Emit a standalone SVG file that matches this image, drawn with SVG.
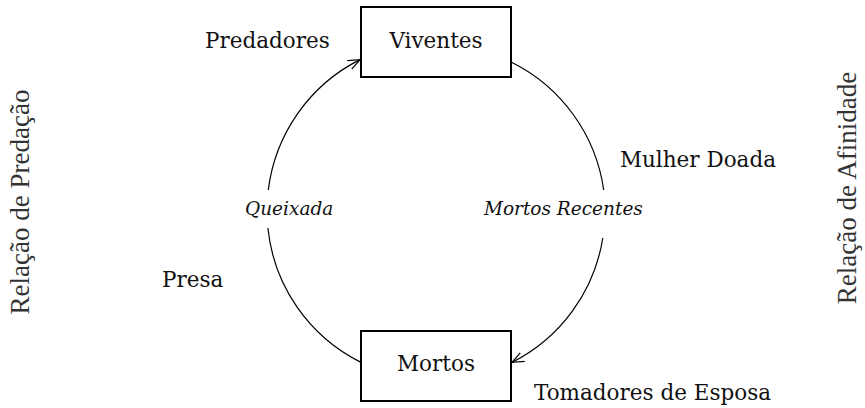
<svg xmlns="http://www.w3.org/2000/svg" width="865" height="408" viewBox="0 0 865 408">
<style>
.t{font-family:"DejaVu Serif","Liberation Serif",serif;font-size:21.5px;fill:#111}
.i{font-family:"DejaVu Serif","Liberation Serif",serif;font-style:italic;font-size:18.5px;fill:#111}
.v{font-family:"Liberation Serif","DejaVu Serif",serif;font-size:27px;fill:#333}
.box{fill:#fff;stroke:#000;stroke-width:2}
.arc{fill:none;stroke:#000;stroke-width:1.2}
</style>
<defs>
<marker id="ah" markerUnits="userSpaceOnUse" markerWidth="14" markerHeight="12" refX="12" refY="5" orient="auto">
<path d="M0,0 L12,5 L0,10" fill="none" stroke="#000" stroke-width="1.2"/>
</marker>
</defs>
<rect width="865" height="408" fill="#fff"/>
<g id="connectors">
<path class="arc" d="M361,362.4 A169,169 0 0 1 267.9,228"/>
<path class="arc" d="M268.3,190 A169,169 0 0 1 360,59.6" marker-end="url(#ah)"/>
<path class="arc" d="M511,62 A169,169 0 0 1 603.7,190"/>
<path class="arc" d="M602.8,238 A169,169 0 0 1 512,362.4" marker-end="url(#ah)"/>
</g>
<g id="viventes">
<rect class="box" x="361" y="7" width="150" height="70"/>
<text class="t" x="436" y="48" text-anchor="middle">Viventes</text>
</g>
<g id="mortos">
<rect class="box" x="361" y="331" width="150" height="70"/>
<text class="t" x="436" y="371" text-anchor="middle">Mortos</text>
</g>
<g id="labels">
<text class="t" x="205" y="48">Predadores</text>
<text class="t" x="620" y="167">Mulher Doada</text>
<text class="i" x="245" y="215">Queixada</text>
<text class="i" x="484" y="215">Mortos Recentes</text>
<text class="t" x="162" y="287">Presa</text>
<text class="t" x="534" y="400">Tomadores de Esposa</text>
<text class="v" transform="translate(29,202) rotate(-90)" text-anchor="middle">Relação de Predação</text>
<text class="v" transform="translate(856,188) rotate(-90)" text-anchor="middle">Relação de Afinidade</text>
</g>
</svg>
